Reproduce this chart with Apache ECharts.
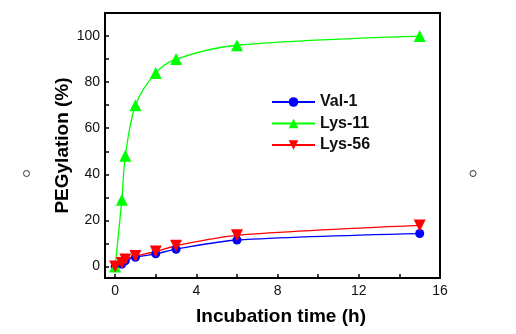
<!DOCTYPE html>
<html>
<head>
<meta charset="utf-8">
<script src="https://cdn.jsdelivr.net/npm/echarts@6/dist/echarts.min.js"></script>
<style>
  html, body { margin: 0; padding: 0; background: #fff; }
  #chart { width: 516px; height: 334px; }
</style>
</head>
<body>
<div id="chart"></div>
<script>
// Incubation times (h) and PEGylation (%) per site
const times = [0, 0.33, 0.5, 1, 2, 3, 6, 15];
const val1 = [0, 1, 2.5, 4, 5.5, 7.5, 11.5, 14.3];
const lys11 = [0, 29, 48, 70, 84, 90, 96, 100];
const lys56 = [0, 1.5, 3, 4.5, 6.5, 9, 13.5, 17.8];
const seriesNames = ['Val-1', 'Lys-11', 'Lys-56'];
const xTicks = [0, 4, 8, 12, 16];
const yTicks = [0, 20, 40, 60, 80, 100];

const pairs = (ys) => times.map((t, i) => [t, ys[i]]);

const chart = echarts.init(document.getElementById('chart'), null, { renderer: 'canvas' });

const tickFont = { fontFamily: 'Liberation Sans, Arial, sans-serif', fontSize: 14, color: '#111' };
const titleFont = { fontFamily: 'Liberation Sans, Arial, sans-serif', fontSize: 19, fontWeight: 'bold', color: '#000' };

function lineSeries(name, ys, color, symbol, size, rotate) {
  return {
    name: name,
    type: 'line',
    data: pairs(ys),
    smooth: 0.3,
    symbol: symbol,
    symbolSize: size,
    symbolRotate: rotate || 0,
    lineStyle: { color: color, width: 1.3 },
    itemStyle: { color: color },
    emphasis: { disabled: true },
    animation: false
  };
}

chart.setOption({
  animation: false,
  backgroundColor: '#fff',
  grid: {
    left: 105, top: 13, right: 76, bottom: 56,
    show: true, borderColor: '#000', borderWidth: 2, backgroundColor: 'transparent'
  },
  legend: {
    orient: 'vertical',
    left: 271,
    top: 94,
    padding: 0,
    itemWidth: 43,
    itemHeight: 12,
    itemGap: 5.5,
    data: seriesNames,
    textStyle: { fontFamily: 'Liberation Sans, Arial, sans-serif', fontSize: 16, fontWeight: 'bold', color: '#111' }
  },
  xAxis: {
    type: 'value',
    min: -0.5,
    max: 16,
    interval: 2,
    name: 'Incubation time (h)',
    nameLocation: 'middle',
    nameGap: 29,
    nameMoveOverlap: false,
    nameTextStyle: Object.assign({}, titleFont, { padding: [0, 0, 0, 17] }),
    axisLine: { show: true, onZero: false, lineStyle: { color: '#000', width: 2 } },
    axisTick: { show: true, inside: true, length: 4, lineStyle: { color: '#000', width: 1.5 },
      customValues: [0, 2, 4, 6, 8, 10, 12, 14, 16] },
    axisLabel: Object.assign({}, tickFont, { margin: 6, customValues: xTicks }),
    splitLine: { show: false }
  },
  yAxis: {
    type: 'value',
    min: -5,
    max: 110,
    name: 'PEGylation (%)',
    nameLocation: 'middle',
    nameGap: 33,
    nameMoveOverlap: false,
    nameTextStyle: titleFont,
    axisLine: { show: true, onZero: false, lineStyle: { color: '#000', width: 2 } },
    axisTick: { show: true, inside: true, length: 4, lineStyle: { color: '#000', width: 1.5 },
      customValues: [0, 10, 20, 30, 40, 50, 60, 70, 80, 90, 100] },
    axisLabel: Object.assign({}, tickFont, { margin: 5, customValues: yTicks }),
    splitLine: { show: false }
  },
  series: [
    lineSeries(seriesNames[0], val1, '#0000ff', 'circle', 9),
    lineSeries(seriesNames[1], lys11, '#00ff00', 'triangle', 12),
    lineSeries(seriesNames[2], lys56, '#ff0000', 'triangle', 12, 180)
  ],
  graphic: [
    { type: 'circle', shape: { cx: 26.5, cy: 173.5, r: 3 }, style: { fill: '#fff', stroke: '#333', lineWidth: 1 } },
    { type: 'circle', shape: { cx: 473, cy: 173.5, r: 3 }, style: { fill: '#fff', stroke: '#333', lineWidth: 1 } }
  ]
});
</script>
</body>
</html>
